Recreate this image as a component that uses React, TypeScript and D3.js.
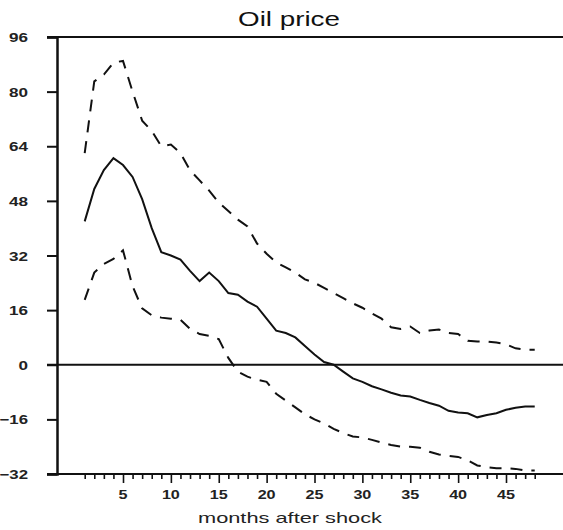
import * as d3 from 'd3';
import React, { useRef, useEffect } from 'react';

const months = [1, 2, 3, 4, 5, 6, 7, 8, 9, 10, 11, 12, 13, 14, 15, 16, 17, 18, 19, 20, 21, 22, 23, 24,
  25, 26, 27, 28, 29, 30, 31, 32, 33, 34, 35, 36, 37, 38, 39, 40, 41, 42, 43, 44, 45, 46, 47, 48];

const response = [42, 51.5, 57, 60.5, 58.5, 55, 48.5, 40, 33, 32, 30.8, 27.5, 24.5, 27, 24.5, 21,
  20.5, 18.5, 17, 13.5, 10, 9.3, 8, 5.5, 3, 0.8, 0, -2, -4, -5, -6.3, -7.2,
  -8.2, -9, -9.3, -10.3, -11.2, -12, -13.5, -14, -14.2, -15.4, -14.7, -14.2, -13.2, -12.6, -12.2, -12.2];

const upperBand = [62, 83, 85, 88.5, 89, 80, 71.5, 68.5, 64, 64.5, 62, 57, 54, 51, 47.5, 45,
  42.5, 40.5, 35.5, 32.5, 30, 28.5, 27, 25, 24, 22.5, 21, 19.5, 18, 16.7, 15, 13.5,
  11, 10.5, 11.2, 9.3, 10, 10.3, 9.3, 9, 7, 6.8, 6.8, 6.5, 6, 4.8, 4.4, 4.4];

const lowerBand = [19, 27, 29.5, 31, 33.5, 23, 16.5, 14.5, 13.8, 13.5, 13.2, 10.5, 9, 8.5, 7.5, 2,
  -2, -3.5, -4.4, -5, -8.5, -10.5, -12.5, -14.5, -16, -17.2, -18.8, -20, -21, -21.3, -22, -22.8,
  -23.5, -24, -24, -24.3, -25.5, -26.3, -26.7, -27, -28, -29.5, -30, -30.3, -30.3, -30.5, -31, -31];

const yTicks = [-32, -16, 0, 16, 32, 48, 64, 80, 96];
const xLabelTicks = [5, 10, 15, 20, 25, 30, 35, 40, 45];

function OilPriceChart() {
  const ref = useRef<SVGSVGElement>(null);

  useEffect(() => {
    const svgWidth = 563, svgHeight = 530;
    const left = 57, right = 563, top = 37, bottom = 474;
    const font = "'Liberation Sans', Arial, sans-serif";

    const svg = d3.select(ref.current);
    svg.selectAll('*').remove();
    svg.attr('width', svgWidth).attr('height', svgHeight);

    const x = d3.scaleLinear().domain([5, 45]).range([123, 506]);
    const y = d3.scaleLinear().domain([-32, 96]).range([bottom, top]);

    // frame lines: top, bottom, zero
    [96, -32, 0].forEach((v) => {
      svg.append('line')
        .attr('x1', left - 10).attr('x2', right)
        .attr('y1', y(v)).attr('y2', y(v))
        .attr('stroke', '#111').attr('stroke-width', 2);
    });

    // y axis
    const yAxis = svg.append('g')
      .attr('transform', 'translate(' + left + ',0)')
      .call(d3.axisLeft(y).tickValues(yTicks).tickSize(10).tickPadding(19).tickFormat(d3.format('d')));
    yAxis.select('.domain').attr('stroke', '#111').attr('stroke-width', 2.5);
    yAxis.selectAll('.tick line').attr('stroke', '#111').attr('stroke-width', 2);
    yAxis.selectAll('.tick text')
      .attr('font-family', font).attr('font-size', 13).attr('font-weight', 'bold')
      .attr('fill', '#222').attr('dy', '0.35em')
      .attr('textLength', (d: any) => String(d).length * 9.5)
      .attr('lengthAdjust', 'spacingAndGlyphs');

    // x axis, monthly minor ticks, labelled majors
    const xAxis = svg.append('g')
      .attr('transform', 'translate(0,' + bottom + ')')
      .call(d3.axisBottom(x).tickValues(months)
        .tickSize(0).tickFormat(() => ''));
    xAxis.select('.domain').remove();
    xAxis.selectAll('.tick line')
      .attr('y2', (d: any) => (d % 5 === 0 ? 9 : 5))
      .attr('stroke', '#111').attr('stroke-width', 1.6);

    svg.append('g').selectAll('text')
      .data(xLabelTicks)
      .enter()
      .append('text')
      .attr('x', (d) => x(d))
      .attr('y', bottom + 25)
      .attr('text-anchor', 'middle')
      .attr('font-family', font)
      .attr('font-size', 13)
      .attr('font-weight', 'bold')
      .attr('fill', '#222')
      .attr('textLength', (d) => String(d).length * 9)
      .attr('lengthAdjust', 'spacingAndGlyphs')
      .text((d) => d);

    const line = (vals: number[]) => d3.line<number>()
      .x((_, i) => x(months[i]))
      .y((d) => y(d))(vals);

    svg.append('path')
      .attr('d', line(upperBand))
      .attr('fill', 'none').attr('stroke', '#111').attr('stroke-width', 2)
      .attr('stroke-dasharray', '12,9');
    svg.append('path')
      .attr('d', line(lowerBand))
      .attr('fill', 'none').attr('stroke', '#111').attr('stroke-width', 2)
      .attr('stroke-dasharray', '12,9');
    svg.append('path')
      .attr('d', line(response))
      .attr('fill', 'none').attr('stroke', '#111').attr('stroke-width', 2);

    svg.append('text')
      .attr('x', 289).attr('y', 26)
      .attr('text-anchor', 'middle')
      .attr('font-family', font).attr('font-size', 21)
      .attr('textLength', 102)
      .attr('lengthAdjust', 'spacingAndGlyphs')
      .attr('fill', '#111')
      .text('Oil price');

    svg.append('text')
      .attr('x', 290).attr('y', 523)
      .attr('text-anchor', 'middle')
      .attr('font-family', font).attr('font-size', 15)
      .attr('textLength', 184)
      .attr('lengthAdjust', 'spacingAndGlyphs')
      .attr('fill', '#222')
      .text('months after shock');
  }, []);

  return <svg ref={ref} style={{ position: 'absolute', left: 0, top: 0, background: '#fff' }}></svg>;
}

export default function App() {
  return <OilPriceChart />;
}
